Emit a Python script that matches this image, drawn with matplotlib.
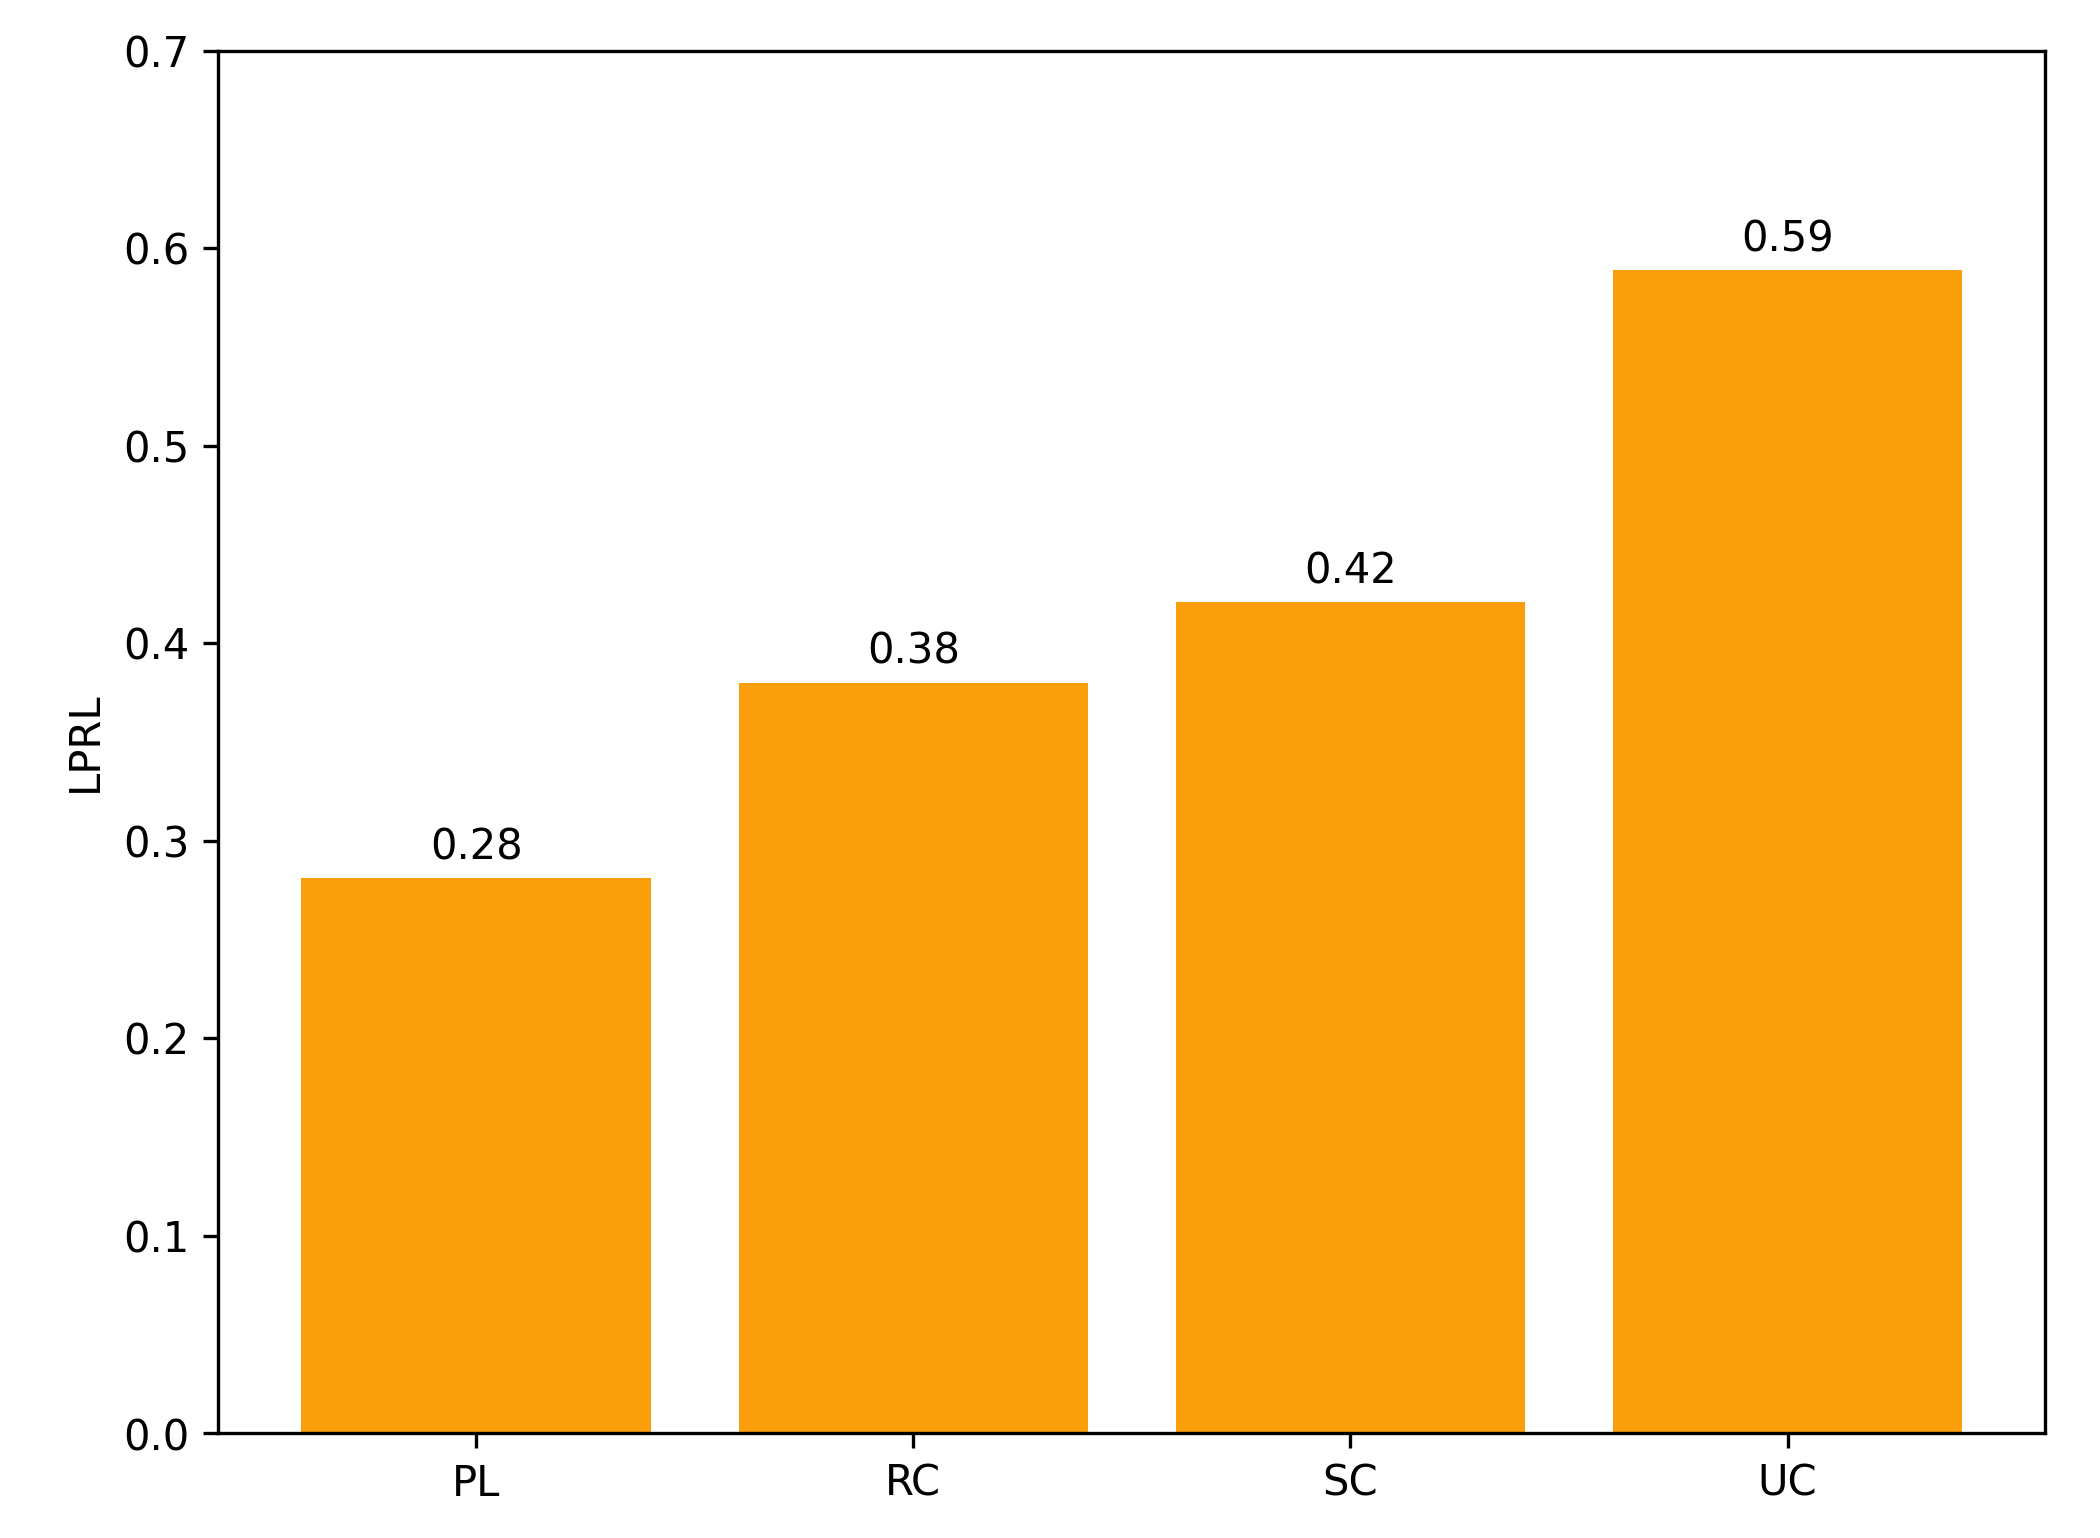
import matplotlib
matplotlib.use("Agg")
import matplotlib.pyplot as plt

categories = ["PL", "RC", "SC", "UC"]
lprl_values = [0.281, 0.38, 0.421, 0.589]
value_labels = ["0.28", "0.38", "0.42", "0.59"]

fig = plt.figure(figsize=(7, 5.127), dpi=300)
ax = fig.add_axes([0.104, 0.068, 0.870, 0.899])
bars = ax.bar(categories, lprl_values, width=0.8, color="#FA9F0B")
for bar, label in zip(bars, value_labels):
    ax.text(bar.get_x() + bar.get_width() / 2, bar.get_height() + 0.005, label,
            ha="center", va="bottom", fontsize=10)
ax.set_ylim(0, 0.7)
ax.set_yticks([0.0, 0.1, 0.2, 0.3, 0.4, 0.5, 0.6, 0.7])
ax.set_ylabel("LPRL", fontsize=10)
ax.tick_params(labelsize=10)
fig.savefig("out.png", dpi=300)
